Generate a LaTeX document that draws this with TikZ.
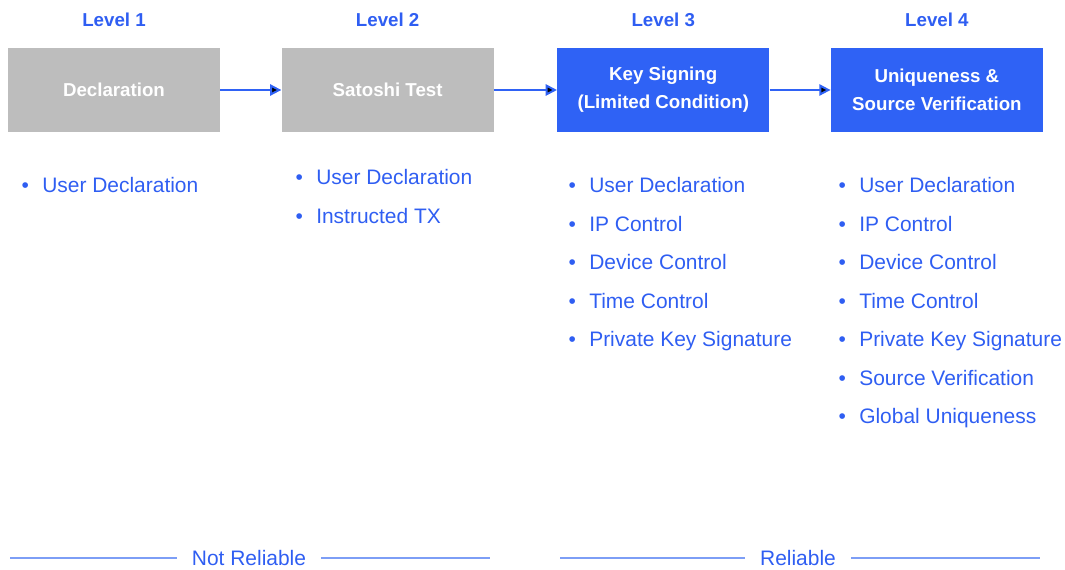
\documentclass[tikz,border=0pt]{standalone}
\usepackage{fontspec}
\setmainfont{Liberation Sans}
\usepackage{tikz}
\usetikzlibrary{positioning, arrows.meta}

\definecolor{lvlblue}{RGB}{47,94,242}
\definecolor{boxblue}{RGB}{47,98,245}
\definecolor{boxgray}{RGB}{189,189,189}
\definecolor{rulblue}{RGB}{125,158,246}

\tikzset{
	stage/.style={minimum width=5.3cm, minimum height=2.1cm, text=white, align=center,
		font=\fontsize{13.3}{19.9}\selectfont\bfseries},
	oldstage/.style={stage, fill=boxgray},
	newstage/.style={stage, fill=boxblue},
	levellabel/.style={text=lvlblue, inner sep=0pt, font=\fontsize{13.3}{16}\selectfont\bfseries},
	bitem/.style={text=lvlblue, inner sep=0pt, anchor=base west,
		font=\fontsize{14.9}{18}\selectfont},
	verdict/.style={text=lvlblue, inner xsep=10.6pt, inner ysep=0pt,
		font=\fontsize{14.9}{18}\selectfont},
	verdictline/.style={rulblue, line width=1.4pt}
}
\newcommand{\bul}{\llap{\textbullet\hspace{9.5pt}}}

\begin{document}
\begin{tikzpicture}[x=0.025cm, y=-0.025cm, ->, >={Triangle[length=8pt,width=8pt]},
	node distance=1.525cm]
	\useasboundingbox (0,0) rectangle (1065,570);

	\node[oldstage] (decl) at (114,90) {Declaration};
	\node[oldstage, right=of decl] (sato) {Satoshi Test};
	\node[newstage, right=1.575cm of sato] (keys) {Key Signing\\(Limited Condition)};
	\node[newstage, right=of keys] (uniq) {Uniqueness \&\\Source Verification};

	\node[levellabel, above=0.53cm of decl] (lv1) {Level 1};
	\node[levellabel, above=0.53cm of sato] (lv2) {Level 2};
	\node[levellabel, above=0.53cm of keys] (lv3) {Level 3};
	\node[levellabel, above=0.53cm of uniq] (lv4) {Level 4};

	\path[draw=boxblue, line width=1.4pt]
	(decl) edge (sato)
	(sato) edge (keys)
	(keys) edge (uniq);

	% what each level checks
	\node[bitem] (la1) at (42,193) {\bul User Declaration};
	\foreach \t [count=\i] in {User Declaration, Instructed TX}
		\node[bitem] (lb\i) at (316,{185+(\i-1)*38.4}) {\bul\t};
	\foreach \t [count=\i] in {User Declaration, IP Control, Device Control,
		Time Control, Private Key Signature}
		\node[bitem] (lc\i) at (589,{193+(\i-1)*38.4}) {\bul\t};
	\foreach \t [count=\i] in {User Declaration, IP Control, Device Control,
		Time Control, Private Key Signature, Source Verification, Global Uniqueness}
		\node[bitem] (ld\i) at (859,{193+(\i-1)*38.4}) {\bul\t};

	% reliability
	\node[verdict] (notrel) at (249,558) {Not Reliable};
	\node[verdict] (rel) at (798,558) {Reliable};
	\coordinate (nrl) at (10,558);
	\coordinate (nrr) at (490,558);
	\coordinate (rl) at (560,558);
	\coordinate (rr) at (1040,558);
	\draw[-, verdictline] (nrl) -- (notrel) -- (nrr);
	\draw[-, verdictline] (rl) -- (rel) -- (rr);
\end{tikzpicture}
\end{document}
